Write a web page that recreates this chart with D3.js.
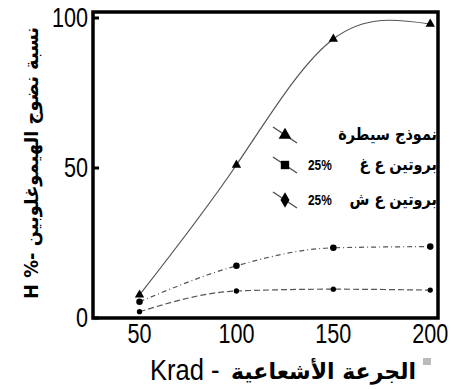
<!DOCTYPE html>
<html>
<head>
<meta charset="utf-8">
<script src="https://cdn.jsdelivr.net/npm/d3@7"></script>
<style>
  body { margin: 0; background: #fff; }
  .num { font-family: "Liberation Sans", Arial, sans-serif; }
  .ar { font-family: "DejaVu Sans", "Noto Sans", sans-serif; }
</style>
</head>
<body>
<div id="chart"></div>
<script>
// dose (Krad) on x, % hemoglobin maturation on y
var doses = [50, 100, 150, 200];
var controlVals = [7.7, 51, 93, 98];
var proteinGhVals = [5.4, 17.4, 23.4, 23.8];
var proteinShVals = [2.1, 9, 9.6, 9.3];
var xTicks = [50, 100, 150, 200];
var yTicks = [0, 50, 100];
var legendLabels = ["نموذج سيطرة", "بروتين ع غ", "بروتين ع ش"];
var legendPct = ["", "25%", "25%"];

var width = 451, height = 389;
var box = {left: 93, top: 12, right: 438, bottom: 318};
var narrow = 0.8; // squeeze factor, no condensed font installed

var svg = d3.select("#chart").append("svg")
    .attr("width", width)
    .attr("height", height);

var x = d3.scaleLinear().domain([26, 204]).range([box.left, box.right]);
var y = d3.scaleLinear().domain([0, 102]).range([box.bottom, box.top]);

var series = [
    {vals: controlVals, curve: d3.curveNatural, dash: null, shape: d3.symbolTriangle, size: 38},
    {vals: proteinGhVals, curve: d3.curveMonotoneX, dash: "5,3,1,3", shape: d3.symbolCircle, size: 34},
    {vals: proteinShVals, curve: d3.curveMonotoneX, dash: "6,3", shape: d3.symbolCircle, size: 22}
];

var g = svg.append("g");

series.forEach(function(s){
    var pts = doses.map(function(d, i){ return [d, s.vals[i]]; });
    var line = d3.line()
        .x(function(d){ return x(d[0]); })
        .y(function(d){ return y(d[1]); })
        .curve(s.curve);
    g.append("path")
        .attr("d", line(pts))
        .attr("fill", "none")
        .attr("stroke", "#555")
        .attr("stroke-width", 1.2)
        .attr("stroke-dasharray", s.dash);
    g.selectAll(null)
        .data(pts)
        .enter().append("path")
        .attr("d", d3.symbol().type(s.shape).size(s.size))
        .attr("transform", function(d){ return "translate(" + x(d[0]) + "," + y(d[1]) + ")"; })
        .attr("fill", "#000");
});

// frame
svg.append("rect")
    .attr("x", box.left)
    .attr("y", box.top)
    .attr("width", box.right - box.left)
    .attr("height", box.bottom - box.top)
    .attr("fill", "none")
    .attr("stroke", "#000")
    .attr("stroke-width", 3.5);

// y ticks (inside) + labels
svg.selectAll(".yt")
    .data(yTicks)
    .enter().append("line")
    .attr("x1", box.left)
    .attr("x2", box.left + 6)
    .attr("y1", function(d){ return y(d); })
    .attr("y2", function(d){ return y(d); })
    .attr("stroke", "#000")
    .attr("stroke-width", 3);

svg.selectAll(".ylab")
    .data(yTicks)
    .enter().append("text")
    .attr("class", "num")
    .attr("transform", function(d){ return "translate(88," + (y(d) + 9) + ") scale(" + narrow + ",1)"; })
    .attr("text-anchor", "end")
    .attr("font-size", "27px")
    .text(function(d){ return d; });

svg.selectAll(".xlab")
    .data(xTicks)
    .enter().append("text")
    .attr("class", "num")
    .attr("transform", function(d){ return "translate(" + x(d) + ",343) scale(" + narrow + ",1)"; })
    .attr("text-anchor", "middle")
    .attr("font-size", "27px")
    .text(function(d){ return d; });

// axis titles
svg.append("text")
    .attr("class", "num")
    .attr("transform", "translate(150,380) scale(0.88,1)")
    .attr("font-size", "29px")
    .text("Krad -");

svg.append("text")
    .attr("class", "ar")
    .attr("x", 416)
    .attr("y", 379)
    .attr("text-anchor", "end")
    .attr("font-size", "22px")
    .attr("font-weight", "bold")
    .text("الجرعة الأشعاعية");

svg.append("rect")
    .attr("x", 423)
    .attr("y", 358)
    .attr("width", 8)
    .attr("height", 7)
    .attr("fill", "#bbb");

svg.append("text")
    .attr("class", "ar")
    .attr("transform", "translate(38,163) rotate(-90)")
    .attr("text-anchor", "middle")
    .attr("font-size", "19px")
    .attr("font-weight", "bold")
    .attr("textLength", 272)
    .attr("lengthAdjust", "spacingAndGlyphs")
    .text("H %- نسبة نضوج الهيموغلوبين");

// legend
var legY = [135, 165, 200];
var leg = svg.selectAll(".leg")
    .data(legendLabels)
    .enter().append("g")
    .attr("transform", function(d, i){ return "translate(285," + legY[i] + ")"; });

leg.append("line")
    .attr("x1", -12).attr("y1", -8)
    .attr("x2", 12).attr("y2", 8)
    .attr("stroke", "#555")
    .attr("stroke-width", 1.5);

leg.append("path")
    .attr("d", function(d, i){
        var t = i == 0 ? d3.symbolTriangle : (i == 1 ? d3.symbolSquare : d3.symbolDiamond);
        return d3.symbol().type(t).size(70)();
    })
    .attr("fill", "#000");

leg.append("text")
    .attr("class", "num")
    .attr("transform", "translate(23,5) scale(0.85,1)")
    .attr("font-size", "14px")
    .attr("font-weight", "bold")
    .text(function(d, i){ return legendPct[i]; });

leg.append("text")
    .attr("class", "ar")
    .attr("transform", "translate(152,5) scale(0.85,1)")
    .attr("text-anchor", "end")
    .attr("font-size", "17px")
    .attr("font-weight", "bold")
    .text(function(d){ return d; });
</script>
</body>
</html>
